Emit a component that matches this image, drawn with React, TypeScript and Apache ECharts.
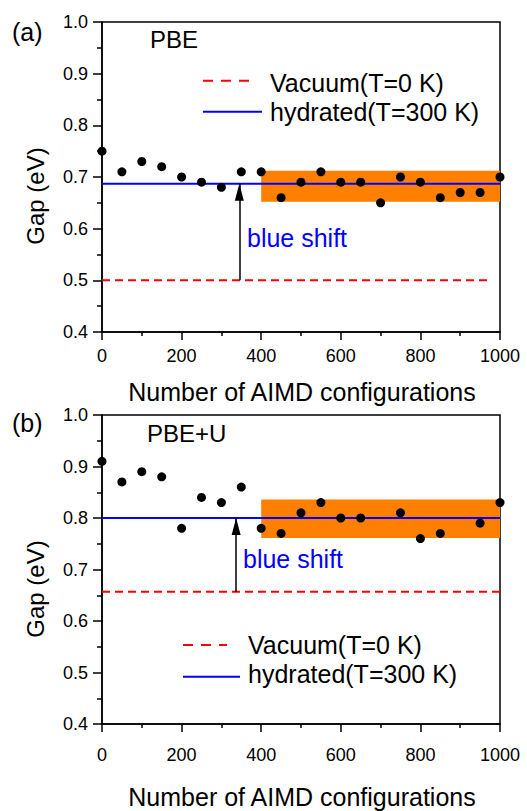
import React, { useEffect, useRef } from "react";
import * as echarts from "echarts";

// ---------- data ----------
const configsA = [0, 50, 100, 150, 200, 250, 300, 350, 400, 450, 500, 550, 600, 650, 700, 750, 800, 850, 900, 950, 1000];
const gapsA = [0.75, 0.71, 0.73, 0.72, 0.70, 0.69, 0.68, 0.71, 0.71, 0.66, 0.69, 0.71, 0.69, 0.69, 0.65, 0.70, 0.69, 0.66, 0.67, 0.67, 0.70];

const configsB = [0, 50, 100, 150, 200, 250, 300, 350, 400, 450, 500, 550, 600, 650, 750, 800, 850, 950, 1000];
const gapsB = [0.91, 0.87, 0.89, 0.88, 0.78, 0.84, 0.83, 0.86, 0.78, 0.77, 0.81, 0.83, 0.80, 0.80, 0.81, 0.76, 0.77, 0.79, 0.83];

const vacuumA = 0.5;
const vacuumEndA = 970;
const hydratedA = 0.687;
const bandA = [0.652, 0.712];
const arrowXA = 345;

const vacuumB = 0.657;
const vacuumEndB = 1000;
const hydratedB = 0.8;
const bandB = [0.761, 0.836];
const arrowXB = 337;

const bandX = [400, 1000];
const xRange = [0, 1000];
const yRange = [0.4, 1.0];
const xStep = 200;
const yStep = 0.1;

const panelLabels = ["(a)", "(b)"];
const methodLabels = ["PBE", "PBE+U"];
const legendNames = ["Vacuum(T=0 K)", "hydrated(T=300 K)"];
const xTitle = "Number of AIMD configurations";
const yTitle = "Gap (eV)";
const shiftText = "blue shift";

const FONT = "'Liberation Sans', Arial, 'Helvetica', sans-serif";
const RED = "#ff0000";
const BLUE = "#0000ff";
const ORANGE = "#ff8000";

function xAxisCfg(gridIndex: number, margin: number) {
  return {
    type: "value",
    gridIndex,
    min: xRange[0],
    max: xRange[1],
    interval: xStep,
    axisLine: { show: true, onZero: false, lineStyle: { color: "#000", width: 1.5 } },
    axisTick: { show: true, inside: false, length: 8, lineStyle: { color: "#000", width: 1.5 } },
    minorTick: { show: true, splitNumber: 2, length: 4, lineStyle: { color: "#000", width: 1.5 } },
    splitLine: { show: false },
    minorSplitLine: { show: false },
    axisLabel: { fontSize: 18, color: "#000", fontFamily: FONT, margin, formatter: (v: number) => String(v) },
  };
}

function yAxisCfg(gridIndex: number) {
  return {
    type: "value",
    gridIndex,
    min: yRange[0],
    max: yRange[1],
    interval: yStep,
    axisLine: { show: true, onZero: false, lineStyle: { color: "#000", width: 1.5 } },
    axisTick: { show: true, inside: false, length: 9, lineStyle: { color: "#000", width: 1.5 } },
    minorTick: { show: true, splitNumber: 2, length: 5, lineStyle: { color: "#000", width: 1.5 } },
    splitLine: { show: false },
    minorSplitLine: { show: false },
    axisLabel: {
      fontSize: 18,
      color: "#000",
      fontFamily: FONT,
      margin: 14,
      formatter: (v: number) => v.toFixed(1),
    },
  };
}

function panelSeries(
  idx: number,
  xs: number[],
  ys: number[],
  vac: number,
  vacEnd: number,
  hyd: number,
  band: number[],
  arrowX: number
) {
  return [
    {
      type: "line",
      name: legendNames[0],
      xAxisIndex: idx,
      yAxisIndex: idx,
      data: [[xRange[0], vac], [vacEnd, vac]],
      symbol: "none",
      lineStyle: { color: RED, width: 2, type: [8, 5] },
      z: 3,
      silent: true,
      markLine: {
        silent: true,
        symbol: ["none", "triangle"],
        symbolSize: [9, 17],
        symbolOffset: [[0, 0], [0, 8.5]],
        label: { show: false },
        lineStyle: { color: "#000", width: 1.5, type: "solid" },
        data: [[{ coord: [arrowX, vac] }, { coord: [arrowX, hyd] }]],
      },
    },
    {
      type: "line",
      name: legendNames[1],
      xAxisIndex: idx,
      yAxisIndex: idx,
      data: [[xRange[0], hyd], [xRange[1], hyd]],
      symbol: "none",
      lineStyle: { color: BLUE, width: 2 },
      z: 4,
      silent: true,
      markArea: {
        silent: true,
        itemStyle: { color: ORANGE, opacity: 1 },
        data: [[{ coord: [bandX[0], band[0]] }, { coord: [bandX[1], band[1]] }]],
      },
    },
    {
      type: "scatter",
      name: methodLabels[idx],
      xAxisIndex: idx,
      yAxisIndex: idx,
      data: xs.map((x, i) => [x, ys[i]]),
      symbol: "circle",
      symbolSize: 9,
      itemStyle: { color: "#000", opacity: 1 },
      z: 5,
      silent: true,
    },
  ];
}

function legendGraphic(x0: number, lineEndDash: number, lineEndSolid: number, textX: number, y1: number, y2: number, t1: number, t2: number) {
  return [
    {
      type: "line",
      shape: { x1: x0, y1, x2: lineEndDash, y2: y1 },
      style: { stroke: RED, lineWidth: 2, lineDash: [10, 8] },
      silent: true,
    },
    {
      type: "line",
      shape: { x1: x0, y1: y2, x2: lineEndSolid, y2 },
      style: { stroke: BLUE, lineWidth: 2 },
      silent: true,
    },
    {
      type: "text",
      x: textX,
      y: t1,
      style: { text: legendNames[0], font: `25px ${FONT}`, fill: "#000", textAlign: "left", textVerticalAlign: "middle" },
      silent: true,
    },
    {
      type: "text",
      x: textX,
      y: t2,
      style: { text: legendNames[1], font: `25px ${FONT}`, fill: "#000", textAlign: "left", textVerticalAlign: "middle" },
      silent: true,
    },
  ];
}

function textEl(text: string, x: number, y: number, size: number, color = "#000", align = "left", rotation = 0) {
  return {
    type: "text",
    x,
    y,
    rotation,
    style: { text, font: `${size}px ${FONT}`, fill: color, textAlign: align, textVerticalAlign: "middle" },
    silent: true,
  };
}

export default function App() {
  const ref = useRef<HTMLDivElement>(null);

  useEffect(() => {
    if (!ref.current) return;
    const chart = echarts.init(ref.current, undefined, { renderer: "svg" });
    const option: any = {
      animation: false,
      backgroundColor: "#fff",
      grid: [
        { left: 102, top: 22, width: 398, height: 310, show: true, borderColor: "#000", borderWidth: 1.5, backgroundColor: "transparent" },
        { left: 102, top: 415, width: 398, height: 309, show: true, borderColor: "#000", borderWidth: 1.5, backgroundColor: "transparent" },
      ],
      xAxis: [xAxisCfg(0, 15), xAxisCfg(1, 22)],
      yAxis: [yAxisCfg(0), yAxisCfg(1)],
      series: [
        ...panelSeries(0, configsA, gapsA, vacuumA, vacuumEndA, hydratedA, bandA, arrowXA),
        ...panelSeries(1, configsB, gapsB, vacuumB, vacuumEndB, hydratedB, bandB, arrowXB),
      ],
      graphic: [
        textEl(panelLabels[0], 12, 32, 25),
        textEl(panelLabels[1], 12, 423, 25),
        textEl(methodLabels[0], 150, 39, 24),
        textEl(methodLabels[1], 147, 433, 24),
        ...legendGraphic(203, 250, 262, 270, 80.7, 111.7, 83, 112),
        ...legendGraphic(183, 227, 240, 248, 645, 676.7, 645, 674),
        textEl(shiftText, 247, 238, 25, BLUE),
        textEl(shiftText, 243, 559, 25, BLUE),
        textEl(xTitle, 302, 392, 25, "#000", "center"),
        textEl(xTitle, 302, 797, 25, "#000", "center"),
        textEl(yTitle, 35, 196, 24, "#000", "center", Math.PI / 2),
        textEl(yTitle, 35, 589, 24, "#000", "center", Math.PI / 2),
      ],
    };
    chart.setOption(option);
    return () => chart.dispose();
  }, []);

  return (
    <div
      ref={ref}
      style={{ position: "fixed", left: 0, top: 0, width: 527, height: 811, background: "#fff" }}
    />
  );
}
